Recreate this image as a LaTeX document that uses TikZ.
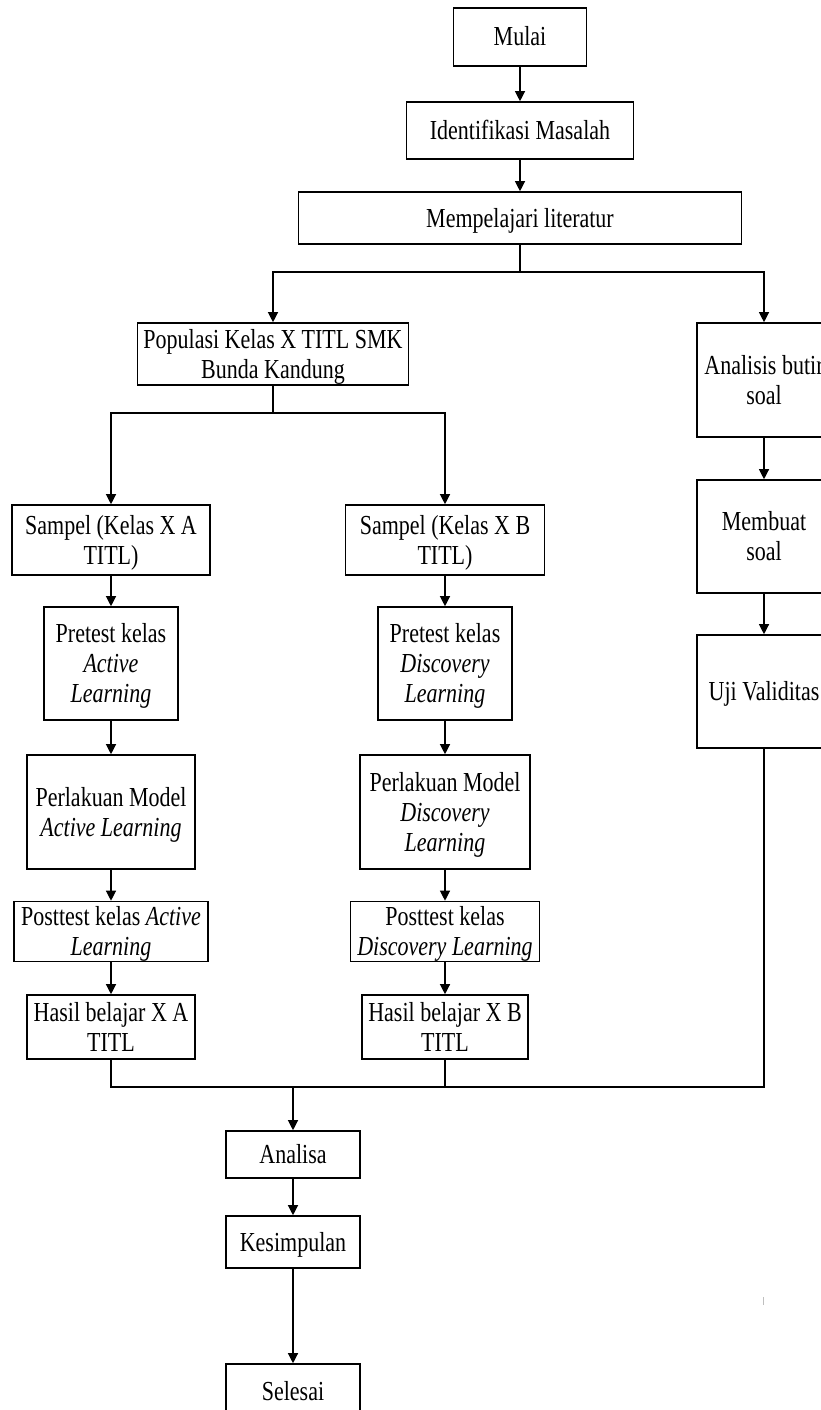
\documentclass[tikz,border=0pt]{standalone}
\usepackage{fontspec}
\setmainfont{Liberation Serif}
\usepackage{graphicx}
\usetikzlibrary{arrows.meta}
\newcommand{\boxtext}[1]{\raisebox{-3pt}[\height][\depth]{\scalebox{1}[1.25]{\begin{tabular}{@{}c@{}}#1\end{tabular}}}}

\begin{document}
\begin{tikzpicture}[x=1pt,y=-1pt,
    box/.style 2 args={draw,line width=1.6pt,inner sep=0pt,minimum width=#1,minimum height=#2,font=\fontsize{22}{24}\selectfont},
    arr/.style={line width=1.2pt,-{Triangle[length=10pt,width=10pt]}},
    ln/.style={line width=1.2pt}]
      \useasboundingbox (0,0) rectangle (821,1410);

      \node [box={133pt}{58pt}] (mulai) at (520,37) {\boxtext{Mulai}};
      \node [box={227pt}{57pt}] (ident) at (520,130.5) {\boxtext{Identifikasi Masalah}};
      \node [box={443pt}{52pt}] (lit) at (520,218) {\boxtext{Mempelajari literatur}};

      \node [box={271pt}{62pt}] (pop) at (273,354) {\boxtext{Populasi Kelas X TITL SMK\\Bunda Kandung}};

      \node [box={134pt}{114pt}] (anal) at (764,380) {\boxtext{Analisis butir\\soal}};
      \node [box={134pt}{113pt}] (buat) at (764,536.5) {\boxtext{Membuat\\soal}};
      \node [box={134pt}{113pt}] (uji) at (764,691.5) {\boxtext{Uji Validitas}};

      \node [box={198pt}{70pt}] (sampA) at (111,540) {\boxtext{Sampel (Kelas X A\\TITL)}};
      \node [box={134pt}{113pt}] (preA) at (111,663.5) {\boxtext{Pretest kelas\\\textit{Active}\\\textit{Learning}}};
      \node [box={168pt}{114pt}] (perA) at (111,812) {\boxtext{Perlakuan Model\\\textit{Active Learning}}};
      \node [box={194pt}{59pt}] (postA) at (111,931.5) {\boxtext{Posttest kelas \textit{Active}\\\textit{Learning}}};
      \node [box={168pt}{64pt}] (hasA) at (111,1027) {\boxtext{Hasil belajar X A\\TITL}};

      \node [box={199pt}{70pt}] (sampB) at (445,540) {\boxtext{Sampel (Kelas X B\\TITL)}};
      \node [box={134pt}{113pt}] (preB) at (445,663.5) {\boxtext{Pretest kelas\\\textit{Discovery}\\\textit{Learning}}};
      \node [box={170pt}{114pt}] (perB) at (445,812) {\boxtext{Perlakuan Model\\\textit{Discovery}\\\textit{Learning}}};
      \node [box={189pt}{59pt}] (postB) at (445,931.5) {\boxtext{Posttest kelas\\\textit{Discovery Learning}}};
      \node [box={166pt}{64pt}] (hasB) at (445,1027) {\boxtext{Hasil belajar X B\\TITL}};

      \node [box={134pt}{47pt}] (analisa) at (293,1154.5) {\boxtext{Analisa}};
      \node [box={134pt}{52pt}] (kesim) at (293,1242) {\boxtext{Kesimpulan}};
      \node [box={134pt}{55pt}] (selesai) at (293,1391.5) {\boxtext{Selesai}};

      \coordinate (split1) at (520,272);
      \coordinate (split2) at (273,413);
      \coordinate (join) at (293,1087);

      \draw [arr] (mulai) to (ident);
      \draw [arr] (ident) to (lit);
      \draw [ln] (lit) to (split1);
      \draw [arr] (split1) -| (pop);
      \draw [arr] (split1) -| (anal);

      \draw [arr] (anal) to (buat);
      \draw [arr] (buat) to (uji);

      \draw [ln] (pop) to (split2);
      \draw [arr] (split2) -| (sampA);
      \draw [arr] (split2) -| (sampB);

      \draw [arr] (sampA) to (preA);
      \draw [arr] (preA) to (perA);
      \draw [arr] (perA) to (postA);
      \draw [arr] (postA) to (hasA);

      \draw [arr] (sampB) to (preB);
      \draw [arr] (preB) to (perB);
      \draw [arr] (perB) to (postB);
      \draw [arr] (postB) to (hasB);

      \draw [ln] (hasA) |- (uji |- join) to (uji);
      \draw [ln] (hasB) to (hasB |- join);
      \draw [arr] (join) to (analisa);
      \draw [arr] (analisa) to (kesim);
      \draw [arr] (kesim) to (selesai);

      \draw [gray!50,line width=0.8pt] (763,1297) to (763,1305);

    \end{tikzpicture}
\end{document}
